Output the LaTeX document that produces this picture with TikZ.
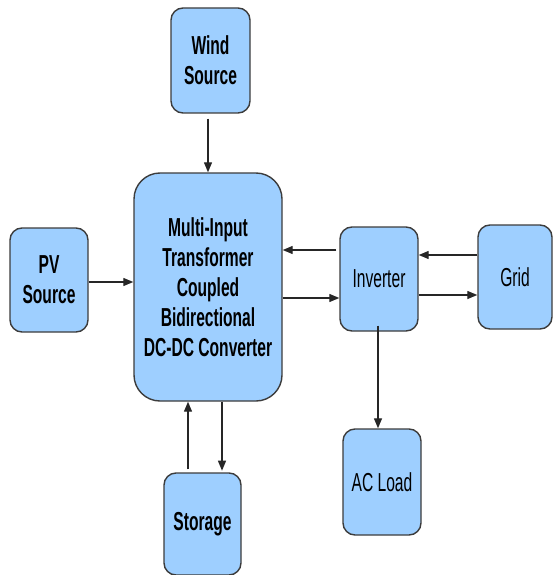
\documentclass[tikz,border=0pt]{standalone}
\usepackage{fontspec}
\setmainfont{Liberation Sans}[FakeStretch=0.6]
\usetikzlibrary{arrows.meta}
\definecolor{boxfill}{HTML}{9ECFFF}
\definecolor{boxline}{HTML}{3C3C3C}
\begin{document}
\begin{tikzpicture}[x=1pt,y=-1pt,
  blk/.style={draw=boxline,line width=1.4pt,fill=boxfill,rounded corners=12pt,
    inner sep=0pt,align=center,font=\fontsize{26}{30}\selectfont},
  bblk/.style={blk,font=\fontsize{26}{30}\selectfont\bfseries},
  arr/.style={draw=black!85,line width=1.3pt,-{Triangle[length=10pt,width=8pt]}}]
\useasboundingbox (0,0) rectangle (554,575);
\node[bblk,minimum width=79pt,minimum height=105pt] (wind) at (210.5,60.5) {Wind\\Source};
\node[bblk,minimum width=148pt,minimum height=228pt,rounded corners=26pt] (main) at (208,287)
  {Multi-Input\\Transformer\\Coupled\\Bidirectional\\DC-DC Converter};
\node[bblk,minimum width=78pt,minimum height=104pt] (pv) at (49,280) {PV\\Source};
\node[blk,minimum width=78pt,minimum height=104pt] (inv) at (379,279) {Inverter};
\node[blk,minimum width=74pt,minimum height=104pt] (grid) at (515,277) {Grid};
\node[blk,minimum width=78pt,minimum height=106pt] (load) at (382,482) {AC Load};
\node[bblk,minimum width=77pt,minimum height=102pt] (stor) at (202.5,524) {Storage};
% connectors
\draw[arr] (wind.south -| 208,0) ++(0,5) -- (main.north -| 208,0);
\draw[arr] (pv.east |- 0,282) -- (main.west |- 0,282);
\draw[arr] (inv.west |- 0,250) ++(-3,0) -- (main.east |- 0,250);
\draw[arr] (main.east |- 0,298) -- (inv.west |- 0,298);
\draw[arr] (grid.west |- 0,255) -- (inv.east |- 0,255);
\draw[arr] (inv.east |- 0,295) -- (grid.west |- 0,295);
\draw[arr] (inv.south -| 378,0) ++(0,-6) -- (load.north -| 378,0);
\draw[arr] (stor.north -| 188,0) ++(0,-3) -- (main.south -| 188,0);
\draw[arr] (main.south -| 222,0) -- ++(0,69);
\end{tikzpicture}
\end{document}
